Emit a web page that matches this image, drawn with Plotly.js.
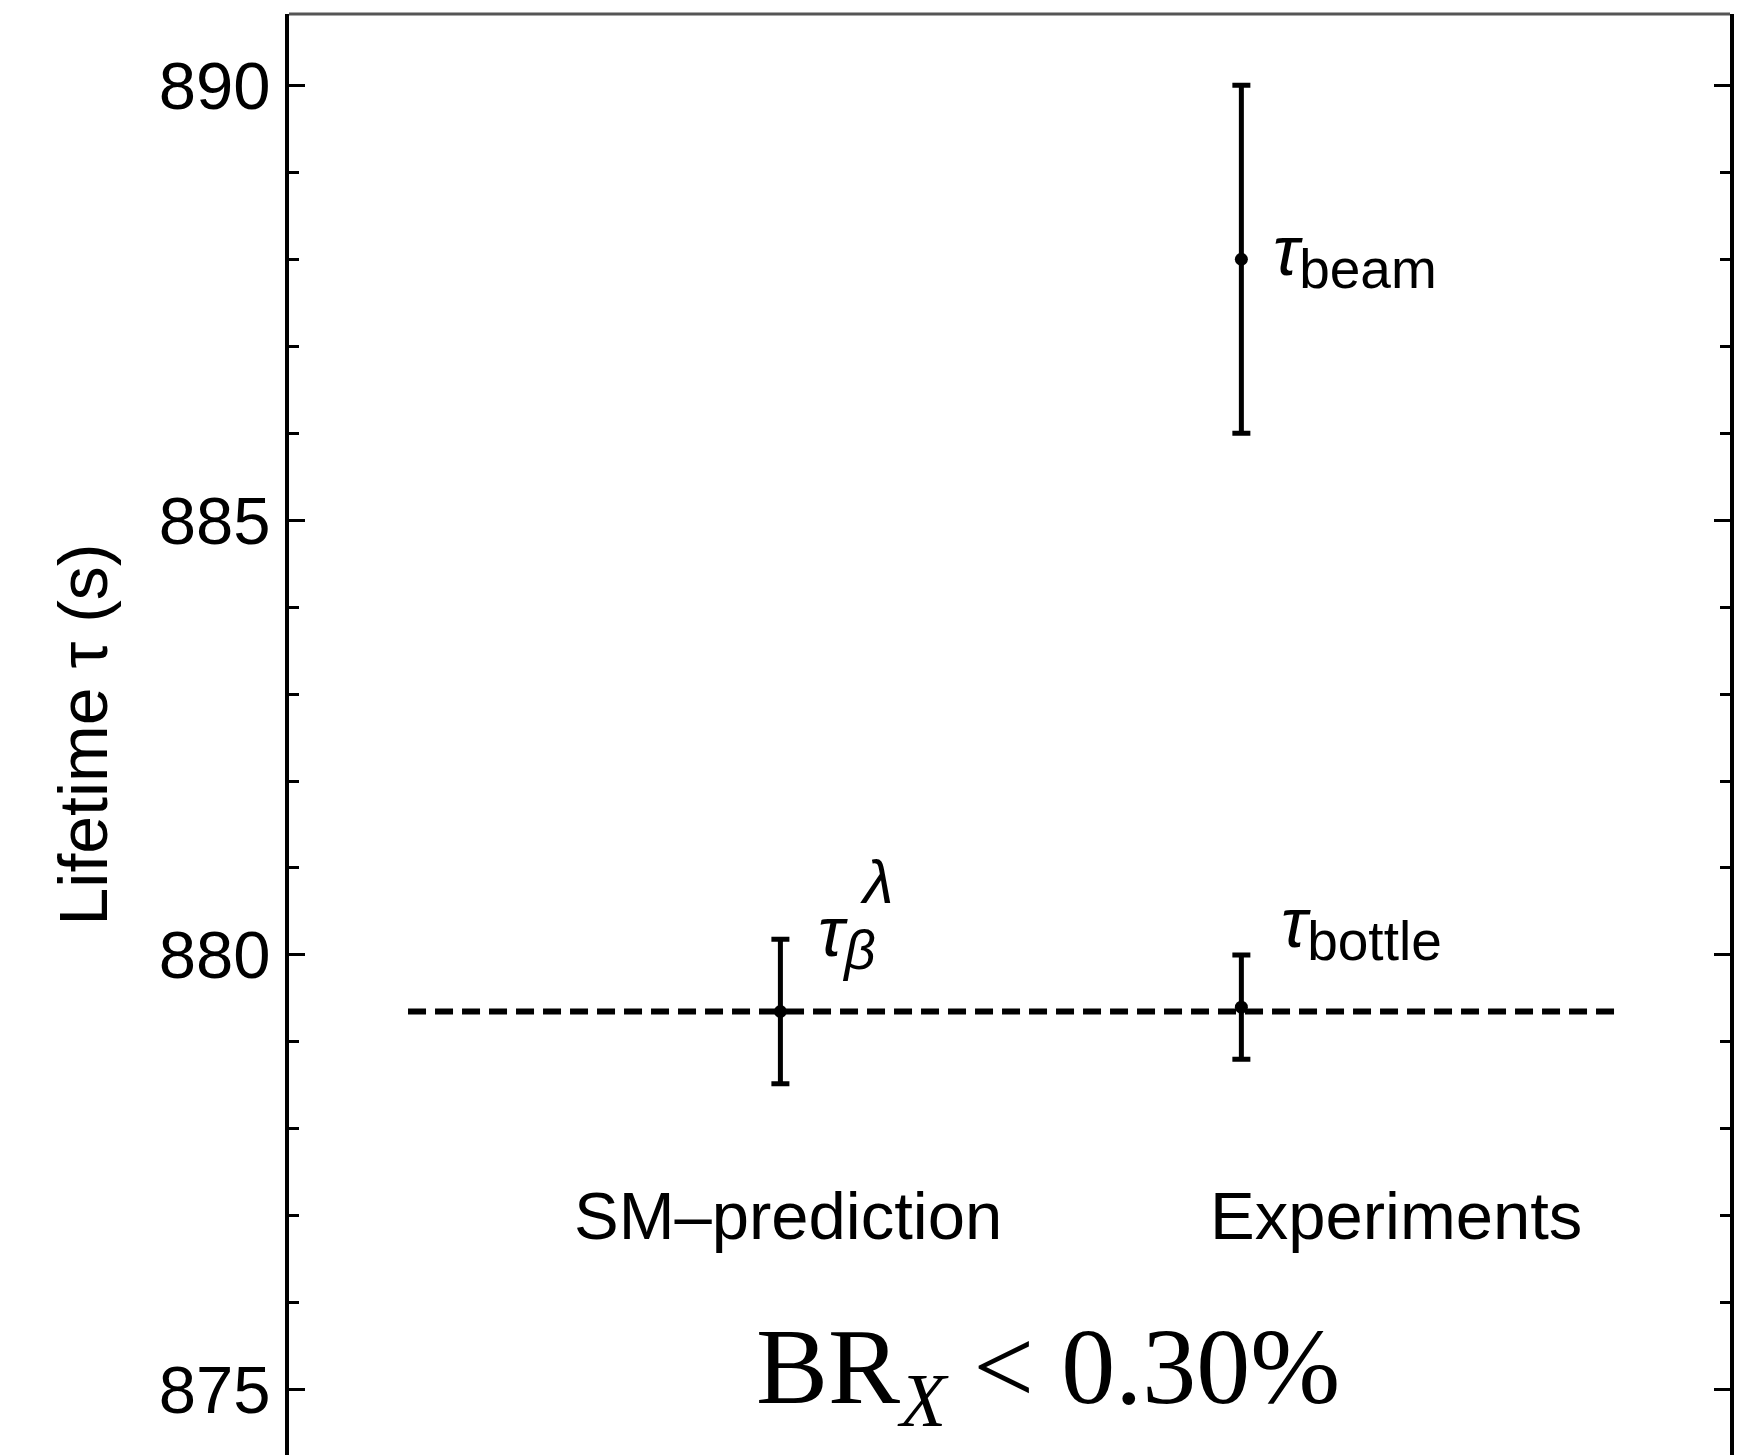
<!DOCTYPE html>
<html>
<head>
<meta charset="utf-8">
<script src="https://cdn.plot.ly/plotly-3.0.1.min.js"></script>
<style>
  html, body { margin: 0; padding: 0; background: #ffffff; }
  #chart { width: 1742px; height: 1455px; }
</style>
</head>
<body>
<div id="chart"></div>
<script>
// Neutron lifetime: Standard-Model prediction vs. bottle and beam experiments
const groups = ["SM\u2013prediction", "Experiments"];
const pointSymbols = ["\u03b2", "bottle", "beam"];          // subscripts of tau
const pointGroup = [0, 1, 1];
const lifetimes = [879.35, 879.4, 888.0];   // seconds
const lifetimeErrors = [0.83, 0.6, 2.0];    // seconds, symmetric
const referenceLifetime = 879.35;           // dashed horizontal line
const yTickValues = [875, 880, 885, 890];
const limitText = "BR<sub><i>X</i></sub> &lt; 0.30%";

const sansFont = "Liberation Sans, Arial, Helvetica, sans-serif";
const serifFont = "Liberation Serif, Times New Roman, serif";

const xs = pointGroup.map(g => groups[g]);

function tauLabel(sub, italicSub) {
  const s = italicSub ? "<i>" + sub + "</i>" : sub;
  return "<span style=\"font-size:70px\"><i>\u03c4</i></span><sub><span style=\"font-size:55px\">" + s + "</span></sub>";
}

const points = {
  type: "scatter",
  mode: "markers",
  x: xs,
  y: lifetimes,
  error_y: {
    type: "data",
    array: lifetimeErrors,
    symmetric: true,
    color: "#000000",
    thickness: 5,
    width: 9
  },
  marker: { color: "#000000", size: 13 },
  cliponaxis: false,
  showlegend: false,
  hoverinfo: "skip"
};

// Label offsets (pixels) relative to each point's value / bar end
const labelAnnotations = [
  { x: xs[0], y: lifetimes[0] + lifetimeErrors[0], text: tauLabel(pointSymbols[0], true),
    xanchor: "left", yanchor: "middle", xshift: 36, yshift: 2 },
  { x: xs[0], y: lifetimes[0] + lifetimeErrors[0], text: "<i>\u03bb</i>",
    xanchor: "center", yanchor: "middle", xshift: 97, yshift: 58 },
  { x: xs[1], y: lifetimes[1] + lifetimeErrors[1], text: tauLabel(pointSymbols[1], false),
    xanchor: "left", yanchor: "middle", xshift: 38, yshift: 27 },
  { x: xs[2], y: lifetimes[2], text: tauLabel(pointSymbols[2], false),
    xanchor: "left", yanchor: "middle", xshift: 30, yshift: 3 }
].map(a => Object.assign({
  xref: "x", yref: "y", showarrow: false,
  font: { family: sansFont, size: 62, color: "#000000" }
}, a));

const groupAnnotations = [
  { x: groups[0], xshift: 8 },
  { x: groups[1], xshift: 155 }
].map((a, i) => Object.assign({
  xref: "x", yref: "y", y: 877.0, yanchor: "middle", xanchor: "center",
  text: groups[i], showarrow: false,
  font: { family: sansFont, size: 67, color: "#000000" }
}, a));

const limitAnnotation = {
  xref: "paper", yref: "paper", x: 0.527, y: 0.056, xanchor: "center", yanchor: "middle",
  text: limitText, showarrow: false,
  font: { family: serifFont, size: 108, color: "#000000" }
};

const layout = {
  width: 1742,
  height: 1455,
  margin: { l: 289, r: 12, t: 14, b: 0, pad: 0 },
  paper_bgcolor: "#ffffff",
  plot_bgcolor: "#ffffff",
  xaxis: {
    type: "category",
    categoryarray: groups,
    range: [-1.066, 2.06],
    showticklabels: false,
    ticks: "",
    showgrid: false,
    zeroline: false,
    showline: false,
    fixedrange: true
  },
  yaxis: {
    range: [874.25, 890.82],
    tickvals: yTickValues,
    ticktext: yTickValues.map(String),
    ticks: "inside",
    ticklen: 16,
    tickwidth: 3,
    tickcolor: "#000000",
    minor: { dtick: 1, ticks: "inside", ticklen: 10, tickwidth: 3, tickcolor: "#000000", showgrid: false },
    showline: true,
    linewidth: 4,
    linecolor: "#000000",
    mirror: "ticks",
    showgrid: false,
    zeroline: false,
    tickfont: { family: sansFont, size: 67, color: "#000000" },
    ticklabelstandoff: 1,
    title: {
      text: "Lifetime \u03c4 (s)",
      font: { family: sansFont, size: 68, color: "#000000" },
      standoff: 30
    },
    automargin: false,
    fixedrange: true
  },
  shapes: [
    { type: "line", xref: "paper", yref: "y", x0: 0.0826, x1: 0.921,
      y0: referenceLifetime, y1: referenceLifetime, layer: "below",
      line: { color: "#000000", width: 6, dash: "18px,9px" } },
    { type: "line", xref: "paper", yref: "paper", x0: 0, x1: 1, y0: 1, y1: 1,
      line: { color: "#555555", width: 3 } }
  ],
  annotations: labelAnnotations.concat(groupAnnotations, [limitAnnotation]),
  showlegend: false
};

Plotly.newPlot("chart", [points], layout, { staticPlot: true, displayModeBar: false });
</script>
</body>
</html>
